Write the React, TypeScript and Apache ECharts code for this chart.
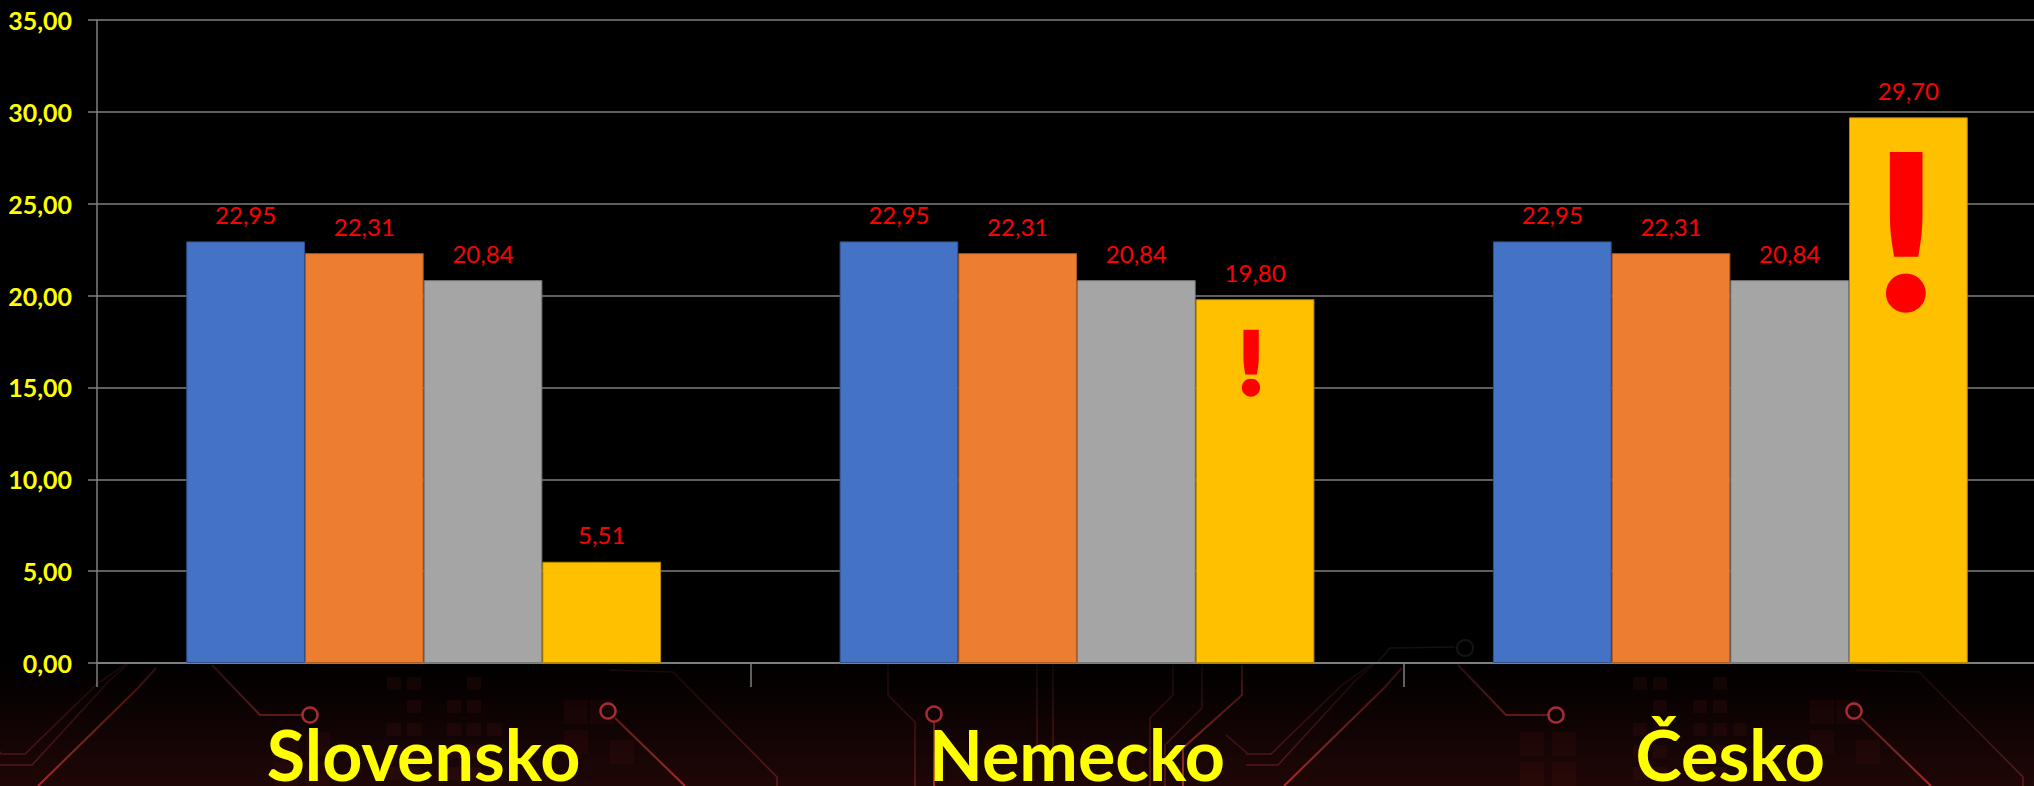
import React, { useEffect, useRef } from "react";
import * as echarts from "echarts";

const categories = ["Slovensko", "Nemecko", "Česko"];
const seriesBlue = [22.95, 22.95, 22.95];
const seriesOrange = [22.31, 22.31, 22.31];
const seriesGray = [20.84, 20.84, 20.84];
const seriesYellow = [5.51, 19.8, 29.7];
const yTicks = { min: 0, max: 35, interval: 5 };

const TILE = 1246;
const dimLines: number[][][] = [
  [[0, 754], [25, 754], [97, 684], [126, 664]],
  [[0, 765], [32, 765], [110, 680], [128, 664]],
  [[-20, 735], [1, 753]],
  [[610, 670], [673, 672], [777, 777], [777, 786]],
  [[888, 665], [888, 695], [915, 722], [915, 786]],
  [[-209, 665], [-209, 750]],
  [[-193, 665], [-193, 750]],
  [[-73, 665], [-73, 695], [-96, 718], [-96, 786]],
  [[-44, 665], [-44, 708], [-81, 745], [-81, 786]],
];
const brightLines: number[][][] = [
  [[38, 786], [138, 688], [156, 668]],
  [[212, 665], [260, 715], [302, 715]],
  [[615, 718], [685, 786]],
  [[934, 722], [934, 786]],
  [[-4, 665], [-4, 695], [-63, 748], [-63, 786]],
];
const rings = [[310, 715], [608, 711], [934, 714]];
const squares: number[][] = [
  [387, 677], [407, 677], [467, 677],
  [407, 700], [447, 700], [467, 700],
  [387, 723], [407, 723], [447, 723], [467, 723], [487, 723],
  [387, 745], [407, 745], [447, 745], [467, 745],
  [387, 767], [407, 767], [447, 767], [467, 767],
];
const bigSquares: number[][] = [
  [274, 732], [306, 732], [274, 762], [306, 762],
  [564, 700], [590, 700], [564, 730], [610, 740],
];

const fade = (top: string, bottom: string) =>
  new echarts.graphic.LinearGradient(0, 664, 0, 786, [
    { offset: 0, color: top },
    { offset: 1, color: bottom },
  ], true);

function backdrop() {
  const out: any[] = [];
  out.push({
    type: "rect", z: -10, silent: true,
    shape: { x: 0, y: 640, width: 2034, height: 146 },
    style: {
      fill: new echarts.graphic.LinearGradient(0, 0, 0, 1, [
        { offset: 0, color: "#000000" },
        { offset: 0.2, color: "#020000" },
        { offset: 1, color: "#1f0706" },
      ]),
    },
  });
  [0, TILE, 2 * TILE].forEach((dx) => {
    squares.forEach(([x, y]) =>
      out.push({ type: "rect", z: -9, silent: true, shape: { x: x + dx, y, width: 14, height: 13 }, style: { fill: "rgba(110,28,28,0.15)" } })
    );
    bigSquares.forEach(([x, y]) =>
      out.push({ type: "rect", z: -9, silent: true, shape: { x: x + dx, y, width: 24, height: 24 }, style: { fill: "rgba(110,28,28,0.12)" } })
    );
    dimLines.forEach((l) =>
      out.push({ type: "polyline", z: -8, silent: true, shape: { points: l.map(([x, y]) => [x + dx, y]) }, style: { stroke: fade("#170707", "#5c1c1a"), lineWidth: 1.6, fill: "none" } })
    );
    brightLines.forEach((l) =>
      out.push({ type: "polyline", z: -8, silent: true, shape: { points: l.map(([x, y]) => [x + dx, y]) }, style: { stroke: fade("#2a0c0c", "#a32c2a"), lineWidth: 2, fill: "none" } })
    );
    rings.forEach(([x, y]) =>
      out.push({ type: "circle", z: -7, silent: true, shape: { cx: x + dx, cy: y, r: 7.5 }, style: { stroke: "#a82c36", lineWidth: 2.5, fill: "none" } })
    );
  });
  // faint circuit showing through above the axis
  out.push({ type: "polyline", z: -8, silent: true, shape: { points: [[1377, 663], [1390, 648], [1455, 647]] }, style: { stroke: "#121212", lineWidth: 1.5, fill: "none" } });
  out.push({ type: "circle", z: -8, silent: true, shape: { cx: 1465, cy: 648, r: 8 }, style: { stroke: "#141414", lineWidth: 2, fill: "none" } });
  return out;
}

function bang(cx: number, cy: number, size: number, k: number) {
  return {
    type: "text", z: 50, x: cx, y: cy, scaleX: k, scaleY: k,
    style: {
      text: "!", fill: "#ff0000", stroke: "#ff0000", lineWidth: 2, lineJoin: "round",
      fontFamily: "Lato", fontWeight: 900, fontSize: size,
      textAlign: "center", textVerticalAlign: "middle",
    },
  };
}

const palette = [
  { name: "a", data: seriesBlue, color: "#4472C4", border: "#2F528F" },
  { name: "b", data: seriesOrange, color: "#ED7D31", border: "#AE5A21" },
  { name: "c", data: seriesGray, color: "#A5A5A5", border: "#787878" },
  { name: "d", data: seriesYellow, color: "#FFC000", border: "#BC8C00" },
];

export default function App() {
  const ref = useRef<HTMLDivElement>(null);
  useEffect(() => {
    const chart = echarts.init(ref.current!, undefined, { renderer: "svg" });
    chart.setOption({
      animation: false,
      backgroundColor: "#000000",
      grid: { left: 97, top: 20, width: 1960, height: 643, containLabel: false, outerBoundsMode: "none" },
      graphic: [...backdrop(), bang(1906, 227, 80, 2.65), bang(1251, 360, 40, 2.15)],
      xAxis: {
        type: "category",
        data: categories,
        axisLine: { show: true, lineStyle: { color: "#7f7f7f", width: 2 } },
        axisTick: { show: true, length: 24, alignWithLabel: false, lineStyle: { color: "#7f7f7f", width: 1.5 } },
        axisLabel: {
          interval: 0, color: "#ffff00", fontFamily: "Lato", fontWeight: 700, fontSize: 70, margin: 62, lineHeight: 58,
        },
      },
      yAxis: {
        type: "value",
        min: yTicks.min, max: yTicks.max, interval: yTicks.interval,
        axisLine: { show: true, lineStyle: { color: "#7f7f7f", width: 1.5 } },
        axisTick: { show: true, length: 9, lineStyle: { color: "#7f7f7f", width: 1.5 } },
        splitLine: { show: true, lineStyle: { color: "#7f7f7f", width: 1.5 } },
        axisLabel: {
          color: "#ffff00", fontFamily: "Lato", fontWeight: 700, fontSize: 25, margin: 25,
          formatter: (v: number) => v.toFixed(2).replace(".", ","),
        },
      },
      series: palette.map((s) => ({
        type: "bar",
        name: s.name,
        data: s.data,
        barWidth: 118.7,
        barGap: "0%",
        itemStyle: { color: s.color, borderColor: s.border, borderWidth: 1 },
        label: {
          show: true, position: "top", distance: 15,
          color: "#ff0000", fontFamily: "Lato", fontSize: 24,
          formatter: (p: any) => Number(p.value).toFixed(2).replace(".", ","),
        },
      })),
    });
    return () => chart.dispose();
  }, []);
  return <div ref={ref} style={{ position: "fixed", left: 0, top: 0, width: 2034, height: 786 }} />;
}
